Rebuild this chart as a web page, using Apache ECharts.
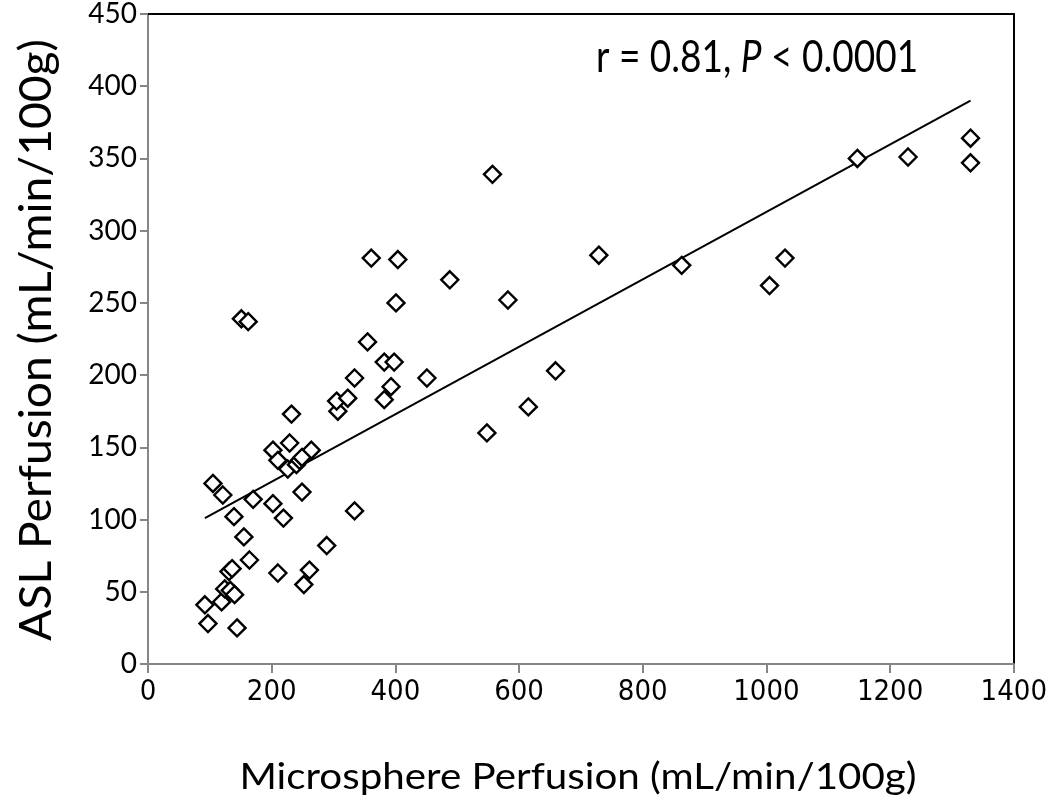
<!DOCTYPE html>
<html>
<head>
<meta charset="utf-8">
<script src="https://cdn.jsdelivr.net/npm/echarts@6/dist/echarts.min.js"></script>
<style>
html,body{margin:0;padding:0;background:#fff;}
#chart{width:1050px;height:803px;}
</style>
</head>
<body>
<div id="chart"></div>
<script>
// Microsphere perfusion (x) and ASL perfusion (y), mL/min/100g
var microX = [92, 97, 119, 124, 133, 140, 131, 136, 144, 155, 164, 105, 121, 139, 170, 202, 219, 210, 252, 261, 289, 249, 334,
  202, 229, 264, 210, 226, 240, 245, 249, 232, 151, 162, 307, 305, 323, 334, 382, 393, 382, 398, 355, 451, 401, 361, 404, 488,
  557, 548, 582, 615, 659, 729, 863, 1005, 1030, 1147, 1229, 1330, 1330];
var aslY = [41, 28, 43, 52, 51, 48, 64, 66, 25, 88, 72, 125, 117, 102, 114, 111, 101, 63, 55, 65, 82, 119, 106,
  148, 153, 148, 141, 135, 138, 141, 143, 173, 239, 237, 175, 182, 184, 198, 183, 192, 209, 209, 223, 198, 250, 281, 280, 266,
  339, 160, 252, 178, 203, 283, 276, 262, 281, 350, 351, 364, 347];
// regression line end points
var trendX = [92, 1330];
var trendY = [101, 390];
var xTicks = [0, 200, 400, 600, 800, 1000, 1200, 1400];
var yTicks = [0, 50, 100, 150, 200, 250, 300, 350, 400, 450];
var annotation = 'r = 0.81, ';
var xTitle = 'Microsphere Perfusion (mL/min/100g)';
var yTitle = 'ASL Perfusion (mL/min/100g)';

var points = microX.map(function (x, i) { return [x, aslY[i]]; });
var trend = trendX.map(function (x, i) { return [x, trendY[i]]; });
var FONT = 'Lato, "Open Sans", sans-serif';
var NARROW = '"Liberation Sans Narrow", "DejaVu Sans Condensed", Roboto, sans-serif';
var gray = '#868686';

var chart = echarts.init(document.getElementById('chart'), null, {renderer: 'canvas'});
chart.setOption({
  animation: false,
  backgroundColor: '#fff',
  grid: {left: 148, right: 34, top: 14, bottom: 139, containLabel: false},
  xAxis: [{
    type: 'value', min: xTicks[0], max: xTicks[xTicks.length - 1], interval: 200,
    axisLine: {show: true, lineStyle: {color: gray, width: 2}},
    axisTick: {show: true, length: 9, lineStyle: {color: gray, width: 2}},
    axisLabel: {color: '#000', fontSize: 29, fontFamily: NARROW, margin: 14,
      formatter: function (v) { return String(v); }},
    splitLine: {show: false}
  }, {
    type: 'value', position: 'top', min: 0, max: 1400,
    axisLine: {show: true, onZero: false, lineStyle: {color: '#000', width: 2}},
    axisTick: {show: false}, axisLabel: {show: false}, splitLine: {show: false}
  }],
  yAxis: [{
    type: 'value', min: yTicks[0], max: yTicks[yTicks.length - 1], interval: 50,
    axisLine: {show: true, lineStyle: {color: gray, width: 2}},
    axisTick: {show: true, length: 8, lineStyle: {color: gray, width: 2}},
    axisLabel: {color: '#000', fontSize: 28, fontFamily: FONT, margin: 11,
      formatter: function (v) { return String(v); }},
    splitLine: {show: false}
  }, {
    type: 'value', position: 'right', min: 0, max: 450,
    axisLine: {show: true, onZero: false, lineStyle: {color: '#000', width: 2}},
    axisTick: {show: false}, axisLabel: {show: false}, splitLine: {show: false}
  }],
  series: [{
    type: 'line', data: trend, showSymbol: false, symbol: 'none',
    lineStyle: {color: '#000', width: 2}, z: 2, silent: true
  }, {
    type: 'scatter', data: points, symbol: 'diamond', symbolSize: 17,
    itemStyle: {color: '#fff', borderColor: '#000', borderWidth: 2.4, opacity: 1},
    z: 3
  }],
  graphic: [{
    type: 'text', x: 596, y: 58, scaleY: 1.2,
    style: {
      text: '{a|' + annotation + '}{b|P}{a| < 0.0001}',
      textVerticalAlign: 'middle', textAlign: 'left',
      rich: {
        a: {fontSize: 37, fontFamily: FONT, fill: '#000'},
        b: {fontSize: 37, fontFamily: FONT, fontStyle: 'italic', fill: '#000'}
      }
    }
  }, {
    type: 'text', x: 578, y: 777, scaleX: 1.12,
    style: {text: xTitle, fontSize: 36, fontFamily: FONT, fill: '#000',
      textAlign: 'center', textVerticalAlign: 'middle'}
  }, {
    type: 'text', x: 37, y: 340, rotation: Math.PI / 2, scaleX: 1.05,
    style: {text: yTitle, fontSize: 44, fontFamily: FONT, fill: '#000',
      textAlign: 'center', textVerticalAlign: 'middle'}
  }]
});
</script>
</body>
</html>
